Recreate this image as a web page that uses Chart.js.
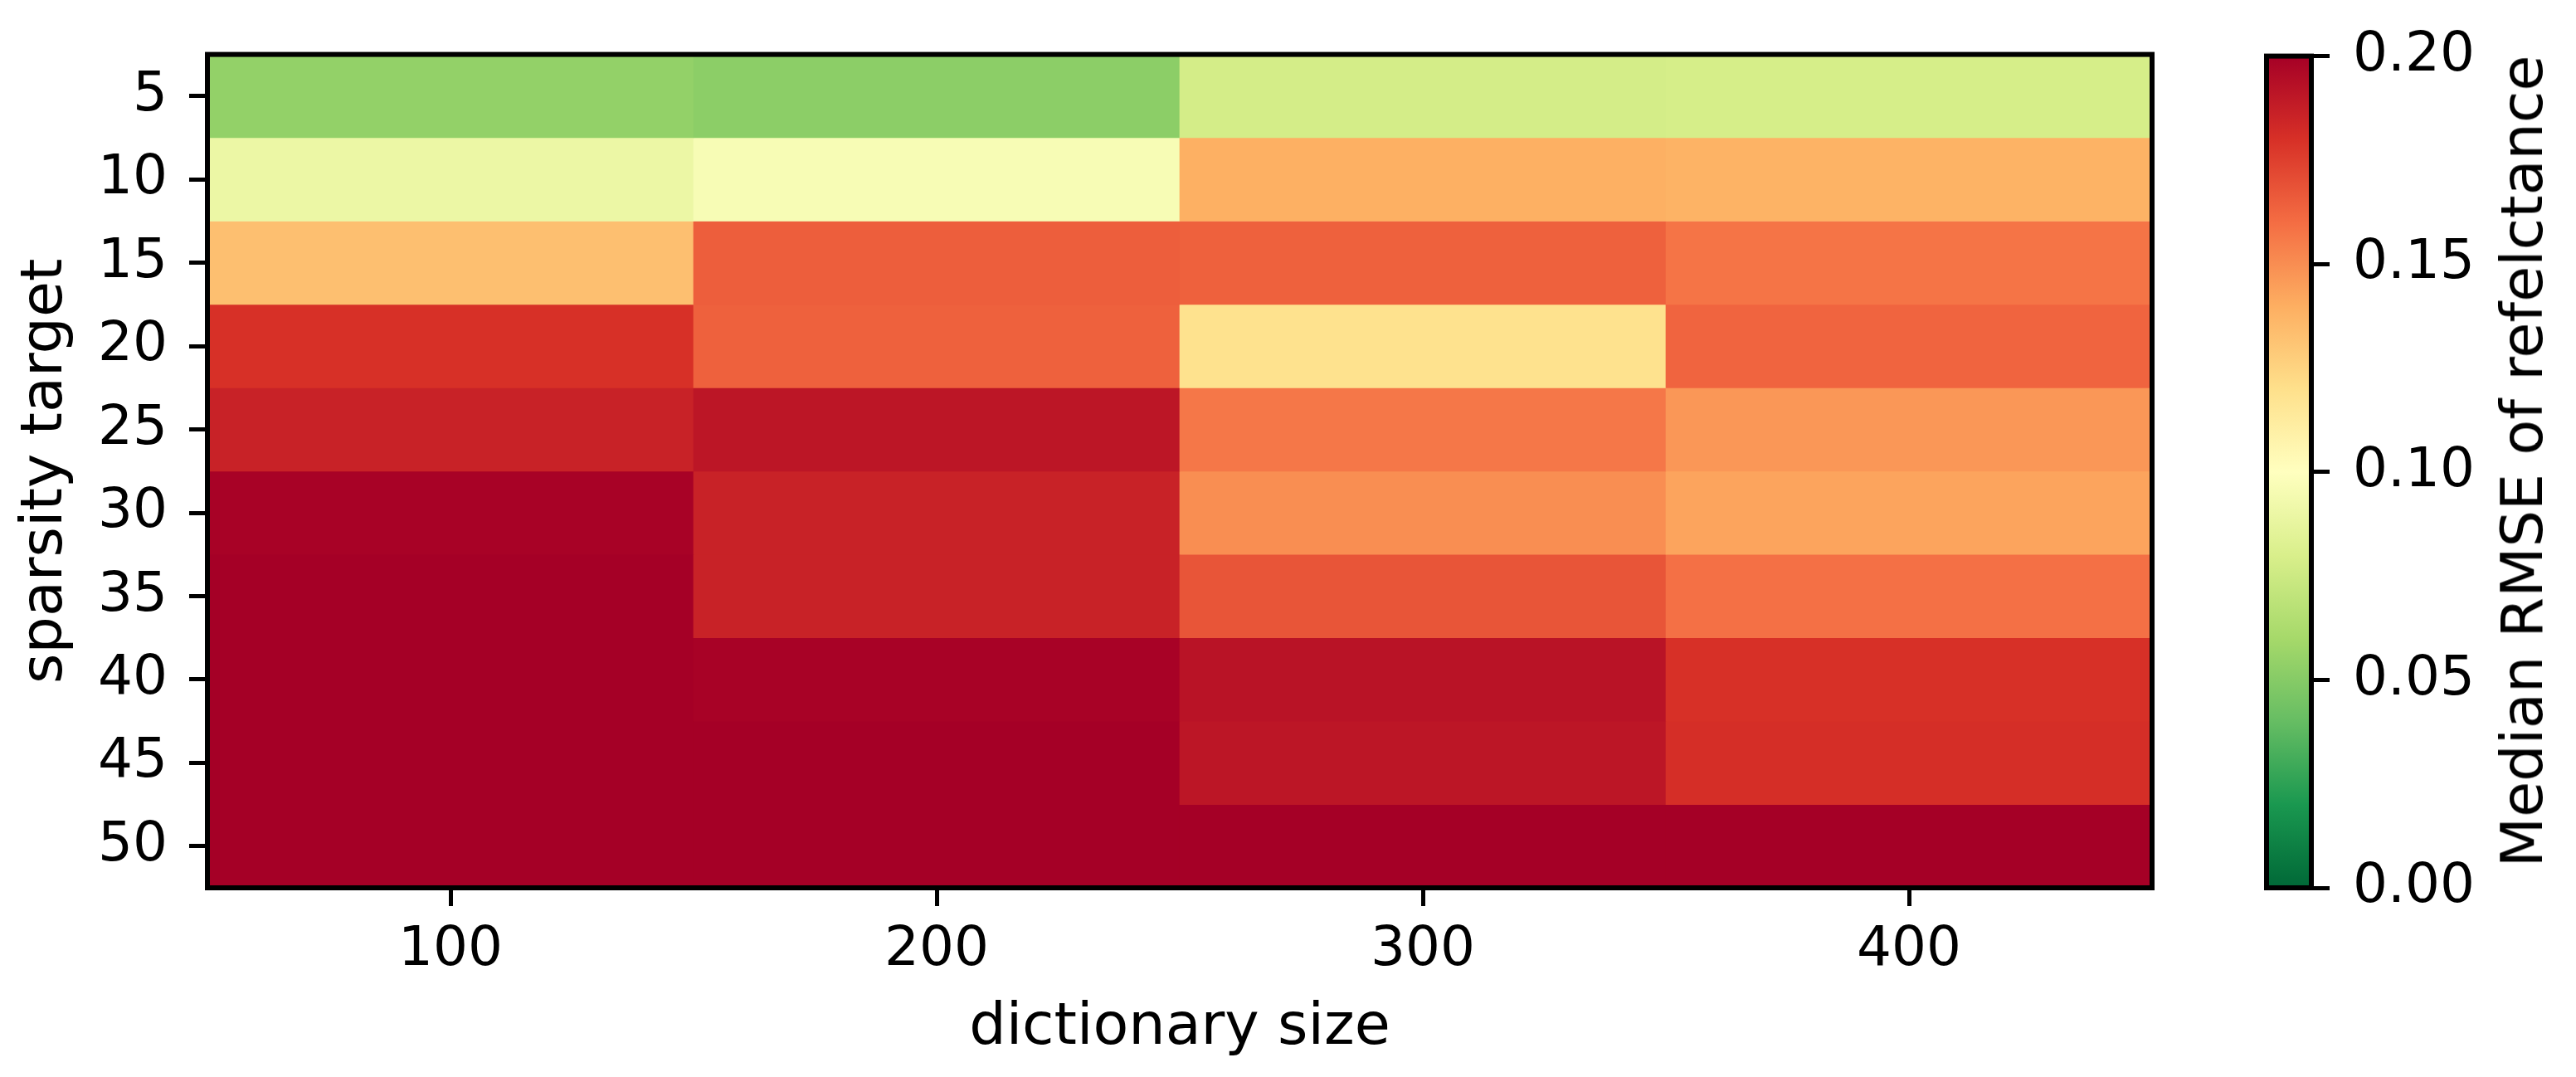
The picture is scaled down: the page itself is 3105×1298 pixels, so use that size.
<!DOCTYPE html>
<html>
<head>
<meta charset="utf-8">
<script src="https://cdn.jsdelivr.net/npm/chart.js@4.4.1/dist/chart.umd.min.js"></script>
<style>
    html, body { margin: 0; padding: 0; background: #fff; }
    #wrap { position: relative; width: 3105px; height: 1298px; overflow: hidden; }
    #heat { position: absolute; left: 0; top: 0; }
    #cbar { position: absolute; left: 2650px; top: 0; }
    #cbarTitle {
        position: absolute; left: 3040px; top: 556px;
        transform: translate(-50%, -50%) rotate(-90deg);
        font-family: 'DejaVu Sans'; font-size: 70px; color: #000; white-space: nowrap;
    }
</style>
</head>
<body>
<div id="wrap">
    <canvas id="heat" width="2650" height="1298"></canvas>
    <canvas id="cbar" width="455" height="1298"></canvas>
    <div id="cbarTitle">Median RMSE of refelctance</div>
</div>
<script>
// données
const dictSizes = ['100', '200', '300', '400'];
const sparsity = [5, 10, 15, 20, 25, 30, 35, 40, 45, 50];
const rmse100 = [0.054, 0.090, 0.133, 0.180, 0.186, 0.199, 0.200, 0.200, 0.200, 0.200];
const rmse200 = [0.052, 0.096, 0.165, 0.164, 0.191, 0.186, 0.186, 0.199, 0.200, 0.200];
const rmse300 = [0.078, 0.139, 0.164, 0.119, 0.157, 0.150, 0.168, 0.192, 0.191, 0.200];
const rmse400 = [0.079, 0.138, 0.158, 0.163, 0.147, 0.143, 0.159, 0.180, 0.181, 0.200];
const cbarTicks = [0, 0.05, 0.10, 0.15, 0.20];
const vmin = 0, vmax = 0.2;

const columns = [rmse100, rmse200, rmse300, rmse400];

// RdYlGn (matplotlib), inversé plus bas
const rdylgn = ['#a50026', '#d73027', '#f46d43', '#fdae61', '#fee08b', '#ffffbf',
    '#d9ef8b', '#a6d96a', '#66bd63', '#1a9850', '#006837'];

function hexToRgb(h) {
    return [parseInt(h.substr(1, 2), 16), parseInt(h.substr(3, 2), 16), parseInt(h.substr(5, 2), 16)];
}

function cmap(v) {
    let t = (v - vmin) / (vmax - vmin);
    t = Math.max(0, Math.min(1, t));
    const pos = (1 - t) * 10;
    const i = Math.min(9, Math.floor(pos));
    const f = pos - i;
    const a = hexToRgb(rdylgn[i]), b = hexToRgb(rdylgn[i + 1]);
    const c = a.map((x, k) => Math.round(x + (b[k] - x) * f));
    return `rgb(${c[0]},${c[1]},${c[2]})`;
}

Chart.defaults.font.family = 'DejaVu Sans';
Chart.defaults.font.size = 66;
Chart.defaults.color = '#000';

// cadre noir autour de la zone de tracé
const framePlugin = {
    id: 'frame',
    afterDatasetsDraw(chart) {
        const { ctx, chartArea: a } = chart;
        ctx.save();
        ctx.strokeStyle = '#000';
        ctx.lineWidth = 6;
        ctx.strokeRect(a.left, a.top, a.right - a.left, a.bottom - a.top);
        ctx.restore();
    }
};

const tickGrid = {
    drawOnChartArea: false,
    drawTicks: true,
    offset: false,
    tickLength: 22,
    tickWidth: 5,
    tickColor: '#000'
};

// une ligne du heatmap = un jeu de barres flottantes
const datasets = sparsity.map((s, r) => ({
    label: 'sparsity ' + s,
    data: dictSizes.map(() => [s - 2.5, s + 2.5]),
    backgroundColor: columns.map(col => cmap(col[r])),
    grouped: false,
    barPercentage: 1,
    categoryPercentage: 1,
    borderWidth: 0,
    borderSkipped: false
}));

new Chart(document.getElementById('heat').getContext('2d'), {
    type: 'bar',
    data: { labels: dictSizes, datasets: datasets },
    options: {
        responsive: false,
        animation: false,
        layout: { padding: { top: 50, right: 56, bottom: 0, left: 0 } },
        plugins: { legend: { display: false }, tooltip: { enabled: false } },
        scales: {
            x: {
                type: 'category',
                offset: true,
                grid: tickGrid,
                border: { display: false },
                ticks: { padding: 14, maxRotation: 0 },
                title: { display: true, text: 'dictionary size', font: { size: 70 }, padding: { top: 0, bottom: 16 } },
                afterFit: (scale) => { scale.height = 228; }
            },
            y: {
                type: 'linear',
                reverse: true,
                min: 2.5,
                max: 52.5,
                grid: tickGrid,
                border: { display: false },
                ticks: { padding: 26, callback: (v) => String(v) },
                afterBuildTicks: (scale) => { scale.ticks = sparsity.map(v => ({ value: v })); },
                title: { display: true, text: 'sparsity target', font: { size: 70 }, padding: { top: 14, bottom: 0 } },
                afterFit: (scale) => { scale.width = 250; }
            }
        }
    },
    plugins: [framePlugin]
});

// barre de couleur
new Chart(document.getElementById('cbar').getContext('2d'), {
    type: 'bar',
    data: {
        labels: [''],
        datasets: [{
            data: [[vmin, vmax]],
            backgroundColor: (ctx) => {
                const a = ctx.chart.chartArea;
                if (!a) return '#000';
                const g = ctx.chart.ctx.createLinearGradient(0, a.bottom, 0, a.top);
                for (let i = 0; i <= 10; i++) g.addColorStop(i / 10, rdylgn[10 - i]);
                return g;
            },
            barPercentage: 1,
            categoryPercentage: 1,
            borderWidth: 0,
            borderSkipped: false
        }]
    },
    options: {
        responsive: false,
        animation: false,
        layout: { padding: { top: 50, right: 0, bottom: 228, left: 82 } },
        plugins: { legend: { display: false }, tooltip: { enabled: false } },
        scales: {
            x: { display: false, offset: true },
            y: {
                position: 'right',
                min: vmin,
                max: vmax,
                grid: tickGrid,
                border: { display: false },
                ticks: { padding: 28, callback: (v) => v.toFixed(2) },
                afterBuildTicks: (scale) => { scale.ticks = cbarTicks.map(v => ({ value: v })); },
                afterFit: (scale) => { scale.width = 319; }
            }
        }
    },
    plugins: [framePlugin]
});
</script>
</body>
</html>
